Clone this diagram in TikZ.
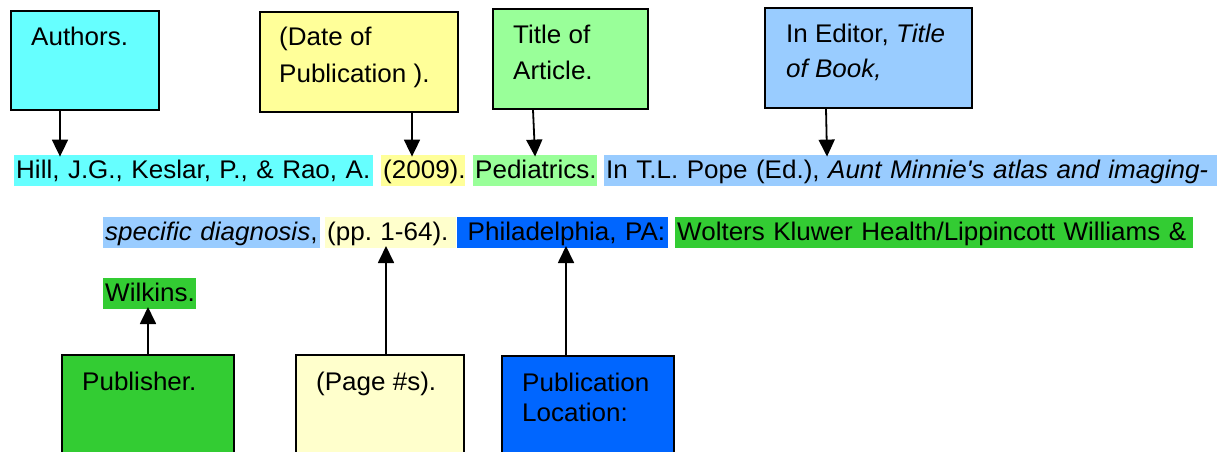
\documentclass[tikz,border=0pt]{standalone}
\usepackage{fontspec}
\setmainfont{Liberation Sans}[FakeStretch=1.02]
\usetikzlibrary{arrows.meta}
\definecolor{cyanA}{HTML}{66FFFF}
\definecolor{yellowA}{HTML}{FFFF99}
\definecolor{greenA}{HTML}{99FF99}
\definecolor{blueA}{HTML}{99CCFF}
\definecolor{yellowB}{HTML}{FFFFCC}
\definecolor{blueB}{HTML}{0066FF}
\definecolor{greenB}{HTML}{33CC33}
\newcommand\myfs[1]{\fontsize{25.5}{#1}\selectfont\frenchspacing}
\begin{document}
\begin{tikzpicture}[x=1pt,y=-1pt,
  hl/.style={anchor=south west, inner xsep=2pt, inner ysep=0pt, minimum height=31pt,
    text height=24pt, text depth=7pt, align=left, font=\myfs{30}},
  box/.style={draw=black, line width=1.8pt, anchor=north west, inner sep=0pt},
  lbl/.style={anchor=base west, inner sep=0pt, align=left},
  arr/.style={line width=1.8pt, -{Triangle[width=16pt,length=17pt]}}
]
\useasboundingbox (0,0) rectangle (1223,451);
\clip (0,0) rectangle (1223,451);

% top boxes
\node[box, fill=cyanA,   minimum width=148pt, minimum height=99pt]  (authors) at (10,10) {};
\node[box, fill=yellowA, minimum width=198pt, minimum height=100pt] (date)    at (259,11) {};
\node[box, fill=greenA,  minimum width=155pt, minimum height=100pt] (title)   at (492,8) {};
\node[box, fill=blueA,   minimum width=207pt, minimum height=100pt] (editor)  at (764,7) {};

% (base anchor = baseline of the last line)
\node[lbl, font=\myfs{37}] (authorsT) at (31,45) {Authors.};
\node[lbl, font=\myfs{37}] (dateT)    at (279,82) {(Date of\\Publication ).};
\node[lbl, font=\myfs{36}] (titleT)   at (513,79) {Title of\\Article.};
\node[lbl, font=\myfs{35}] (editorT)  at (786,77) {In Editor, \textit{Title}\\\textit{of Book,}};

% bottom boxes
\node[box, fill=greenB,  minimum width=172pt, minimum height=120pt] (pub)  at (61,354) {};
\node[box, fill=yellowB, minimum width=168pt, minimum height=120pt] (page) at (295,354) {};
\node[box, fill=blueB,   minimum width=172pt, minimum height=120pt] (loc)  at (501,355) {};

\node[lbl, font=\myfs{30}] (pubT)  at (82,390) {Publisher.};
\node[lbl, font=\myfs{30}] (pageT) at (316,390.5) {(Page \#s).};
\node[lbl, font=\myfs{30}] (locT)  at (522,421) {Publication\\Location:};

% reference text, line 1
\node[hl, fill=cyanA,   text width=355pt] (h1) at (14,186) {Hill, J.G., Keslar, P., \& Rao, A.};
\node[hl, fill=yellowA, text width=80pt]  (h2) at (381,186) {(2009).};
\node[hl, fill=greenA,  text width=120pt] (h3) at (473,186) {Pediatrics.};
\node[hl, fill=blueA,   text width=609pt] (h4) at (604,186) {In T.L. Pope (Ed.), \textit{Aunt Minnie\textquotesingle s atlas and imaging-}};
% line 2
\node[hl, fill=blueA,   text width=213pt] (l2a) at (103,248) {\textit{specific diagnosis},};
\node[hl, fill=yellowB, text width=127pt] (l2b) at (325,248) {(pp. 1-64).};
\node[hl, fill=blueB,   text width=207pt] (l2c) at (457,248) {\ Philadelphia, PA:};
\node[hl, fill=greenB,  text width=514pt] (l2d) at (675,248) {Wolters Kluwer Health/Lippincott Williams \&};
% line 3
\node[hl, fill=greenB,  text width=89pt]  (w1) at (103,309) {Wilkins.};

% connectors
\draw[arr, shorten >=-2pt] (authors.south -| 60,0) -- (60,0 |- h1.north);
\draw[arr, shorten >=-2pt] (date.south -| 412,0) -- (412,0 |- h2.north);
\draw[arr, shorten >=-2pt] (title.south -| 533,0) -- (535,0 |- h3.north);
\draw[arr, shorten >=-2pt] (editor.south -| 826,0) -- (827,0 |- h4.north);
\draw[arr, shorten >=-2pt] (pub.north -| 148,0) -- (148,0 |- w1.south);
\draw[arr, shorten >=-2pt] (page.north -| 386,0) -- (386,0 |- l2b.south);
\draw[arr, shorten >=-2pt] (loc.north -| 566,0) -- (566,0 |- l2c.south);
\end{tikzpicture}
\end{document}
